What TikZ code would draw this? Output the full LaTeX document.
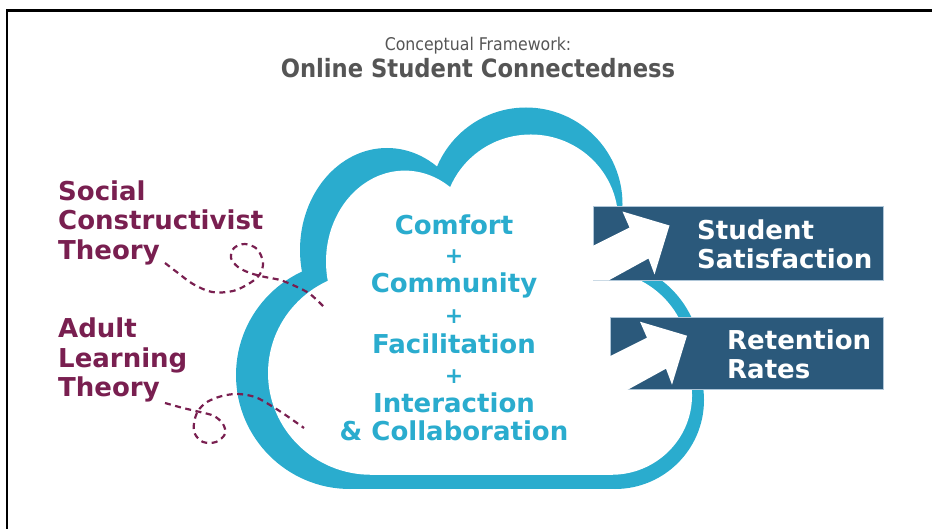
\documentclass[tikz,border=0pt]{standalone}
\usepackage{fontspec}
\setmainfont{DejaVu Sans}
\newfontfamily\condfont{DejaVu Sans Condensed}
\usetikzlibrary{positioning}

\definecolor{cloudblue}{RGB}{42,172,206}
\definecolor{plum}{RGB}{121,31,80}
\definecolor{boxblue}{RGB}{43,89,123}
\definecolor{boxedge}{RGB}{175,198,216}
\definecolor{titlegray}{RGB}{85,85,85}

% lobes of the cloud, filled with whatever fill is in force
\newcommand\cloudlobes{%
	\fill (350,375) circle[radius=114];
	\fill (387,250) ellipse[x radius=87,y radius=102];
	\fill (526,204) circle[radius=96.5];
	\fill (601,360) circle[radius=100];
	\fill (615,400) circle[radius=89];
	\fill (350,240) rectangle (615,489);
}
% white arrow cut into the left end of an outcome box
\newcommand\cutarrow[1]{%
	\begin{scope}[shift={(#1.north west)}]
		\fill[white] (-1,40) -- (37,21) -- (30,5) -- (77,19) -- (62,68) -- (56,52) -- (16,74) -- (-1,74) -- cycle;
	\end{scope}
}

\begin{document}
\begin{tikzpicture}[x=1pt,y=-1pt,
		theory/.style={text=plum,font=\bfseries\fontsize{26}{29.5}\selectfont,align=left,inner sep=0pt,anchor=base west},
		core/.style={text=cloudblue,font=\bfseries\fontsize{26}{28}\selectfont,align=center,inner sep=0pt,anchor=base},
		plus/.style={text=cloudblue,font=\bfseries\fontsize{22}{22}\selectfont,inner sep=0pt},
		outcome/.style={fill=boxblue,draw=boxedge,line width=0.8pt,inner sep=0pt,anchor=north west},
		outlabel/.style={text=white,font=\bfseries\fontsize{26}{29}\selectfont,align=left,inner sep=0pt,anchor=base west},
		thread/.style={plum,line width=2.2pt,dash pattern=on 6pt off 4.5pt}]
	\useasboundingbox (0,0) rectangle (932,529);
	\draw[line width=2.2pt] (7,529) -- (7,10.5) -- (932,10.5);

	% title
	\node[anchor=base,text=titlegray,inner sep=0pt,font=\condfont\fontsize{17.5}{20}\selectfont] (caption) at (478,51) {Conceptual Framework:};
	\node[anchor=base,text=titlegray,inner sep=0pt,font=\condfont\bfseries\fontsize{25.2}{30}\selectfont] (heading) at (478,78) {Online Student Connectedness};

	% cloud ring: blue lobes, then a smaller white copy
	\begin{scope}[fill=cloudblue]
		\cloudlobes
	\end{scope}
	\begin{scope}[shift={(54.2,38.6)},xscale=0.906,yscale=0.892,fill=white]
		\cloudlobes
	\end{scope}

	% theories (base = last line)
	\node[theory] (social) at (58,259.3) {Social\\Constructivist\\Theory};
	\node[theory] (adult) at (58,396.7) {Adult\\Learning\\Theory};
	\coordinate (sctail) at (165,263);
	\coordinate (altail) at (165,403);
	\draw[thread] plot[smooth,tension=0.55] coordinates {(sctail) (178,273) (193,284) (212,292) (233,291) (250,283) (260,274) (263,262) (257,249) (245,244) (234,248) (231,258) (238,267) (250,273) (265,277) (280,280) (295,286) (310,294) (325,308)};
	\draw[thread] plot[smooth,tension=0.55] coordinates {(altail) (183,408) (200,412) (214,416) (223,424) (225,434) (216,442) (203,442) (195,434) (194,423) (198,411) (207,402) (222,396) (238,394) (255,397) (270,405) (287,416) (304,428)};

	% contents of the cloud
	\node[core] (comfort) at (454,235) {Comfort};
	\node[plus] (plusA) at (454,257) {+};
	\node[core] (community) at (454,293) {Community};
	\node[plus] (plusB) at (454,317) {+};
	\node[core] (facil) at (454,353) {Facilitation};
	\node[plus] (plusC) at (454,377) {+};
	\node[core] (interact) at (454,440) {Interaction\\\&~Collaboration};

	% outcomes
	\node[outcome,minimum width=290.5,minimum height=73.5] (satisf) at (592.5,206.5) {};
	\node[outcome,minimum width=273,minimum height=72] (retain) at (610,316.7) {};
	\cutarrow{satisf}
	\cutarrow{retain}
	\node[outlabel] (satisftext) at (697,269) {Student\\Satisfaction};
	\node[outlabel] (retaintext) at (727,378.3) {Retention\\Rates};
\end{tikzpicture}
\end{document}
